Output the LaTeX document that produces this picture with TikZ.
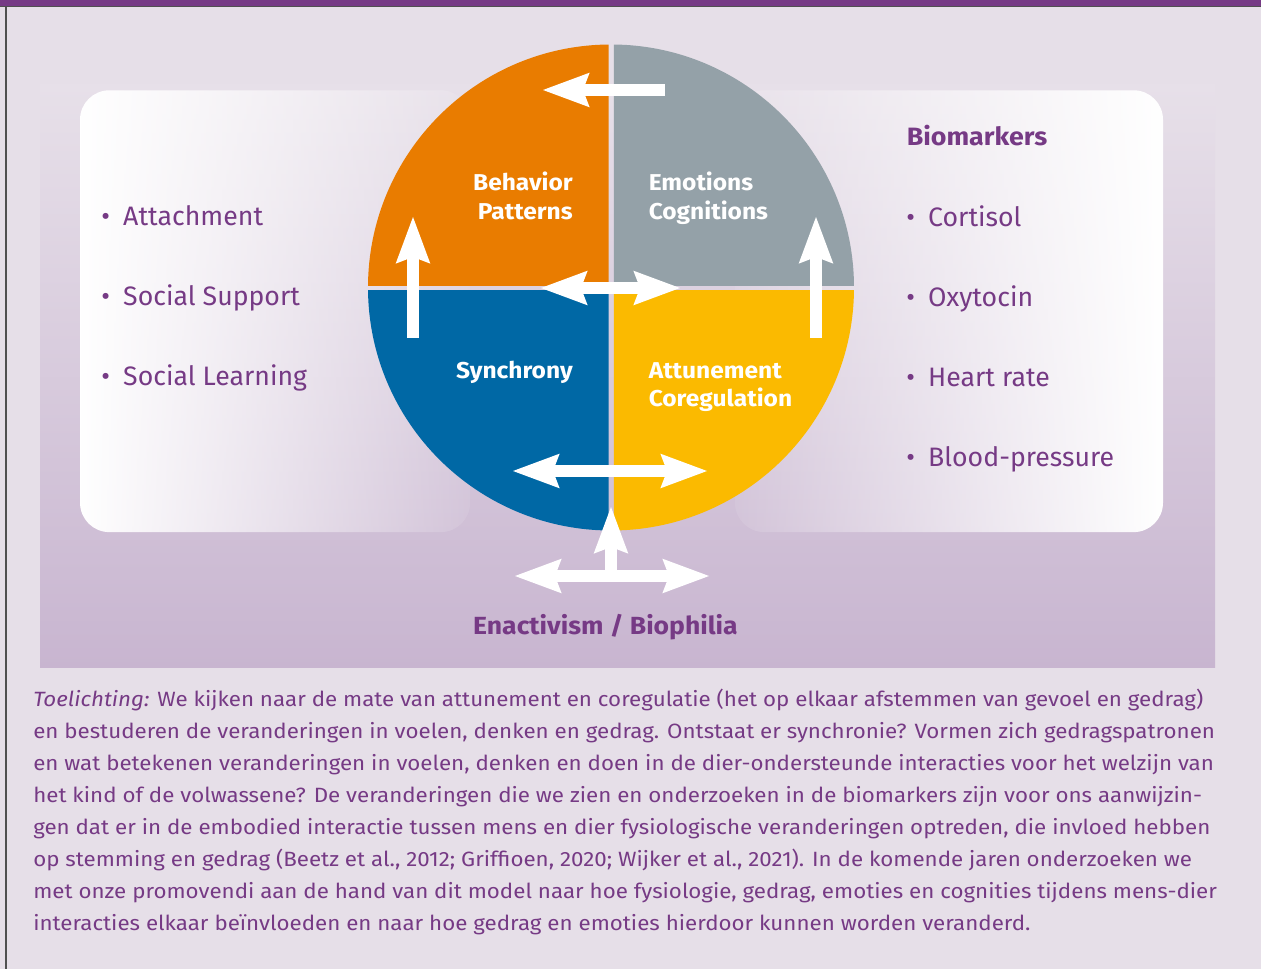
\documentclass[tikz,border=0pt]{standalone}
\usepackage{fontspec}
\setmainfont{Fira Sans}[BoldFeatures={FakeStretch=1.07}]
\newfontfamily\notefont{Fira Sans}[FakeStretch=1.08]
\usetikzlibrary{arrows.meta,fadings}

\definecolor{textpurple}{RGB}{118,58,133}
\definecolor{pagebg}{RGB}{230,223,232}
\definecolor{paneltop}{RGB}{231,224,233}
\definecolor{panelbot}{RGB}{200,181,208}
\definecolor{framegray}{RGB}{80,80,80}
\definecolor{qorange}{RGB}{233,124,0}
\definecolor{qgray}{RGB}{148,161,168}
\definecolor{qblue}{RGB}{0,104,165}
\definecolor{qyellow}{RGB}{251,186,0}

\tikzfading[name=fade left box, left color=transparent!0, middle color=transparent!10, right color=transparent!92]
\tikzfading[name=fade right box, left color=transparent!92, middle color=transparent!5, right color=transparent!0]

\tikzset{
  fat/.style={draw=white, line width=9pt, -{Stealth[length=35pt, width=26pt, inset=5pt, line width=0pt]}},
  fatboth/.style={draw=white, line width=9pt, {Stealth[length=35pt, width=26pt, inset=5pt, line width=0pt]}-{Stealth[length=35pt, width=26pt, inset=5pt, line width=0pt]}},
  quadlabel/.style={text=white, font=\bfseries\fontsize{17.2}{21.2}\selectfont, inner sep=0pt},
  listitem/.style={text=textpurple, font=\fontsize{20}{24}\selectfont, anchor=base west, inner sep=0pt},
}

\begin{document}
\begin{tikzpicture}[x=0.75pt, y=-0.75pt]
\useasboundingbox (0,0) rectangle (1261,969);
\fill[pagebg] (0,0) rectangle (1261,969);
\fill[textpurple] (0,0) rectangle (1261,5.7);
\fill[framegray] (0,5.7) rectangle (1261,7.3);
\fill[framegray] (5,5.7) rectangle (7,969);

% panel and the two boxes
\shade[top color=paneltop, bottom color=panelbot] (40,85) rectangle (1215,668);
\fill[white, rounded corners=22pt, path fading=fade left box] (80,90) rectangle (470,532);
\fill[white, rounded corners=22pt, path fading=fade right box] (735,90) rectangle (1163,532);

% circle
\begin{scope}
\clip (0,0) rectangle (608.5,285.2);
\fill[qorange] (611,287.5) circle[radius=182.25pt];
\end{scope}
\begin{scope}
\clip (613.8,0) rectangle (1261,285.2);
\fill[qgray] (611,287.5) circle[radius=182.25pt];
\end{scope}
\begin{scope}
\clip (0,290.6) rectangle (608.5,969);
\fill[qblue] (611,287.5) circle[radius=182.25pt];
\end{scope}
\begin{scope}
\clip (613.8,290.6) rectangle (1261,969);
\fill[qyellow] (611,287.5) circle[radius=182.25pt];
\end{scope}

\node[quadlabel, align=right, anchor=north east] (behav) at (573,172) {Behavior\\Patterns};
\node[quadlabel, align=left, anchor=north west] (emot) at (648.5,172) {Emotions\\Cognitions};
\node[quadlabel, anchor=base east] (sync) at (573,378.3) {Synchrony};
\node[quadlabel, align=left, anchor=north west] (attun) at (648.5,362) {Attunement\\Coregulation};

% arrows
\coordinate (topR) at (665,90);
\coordinate (topL) at (543,90);
\coordinate (leftB) at (413,338);
\coordinate (leftT) at (413,217);
\coordinate (rightB) at (816,338);
\coordinate (rightT) at (816,217);
\coordinate (midL) at (541,288);
\coordinate (midR) at (680,288);
\coordinate (lowL) at (513,471);
\coordinate (lowR) at (707,471);
\coordinate (baseC) at (611,576);
\coordinate (baseT) at (611,507);
\coordinate (baseL) at (515,576);
\coordinate (baseR) at (709,576);
\draw[fat] (topR) -- (topL);
\draw[fat] (leftB) -- (leftT);
\draw[fat] (rightB) -- (rightT);
\draw[fatboth] (midL) -- (midR);
\draw[fatboth] (lowL) -- (lowR);
\draw[fat] (baseC) -- (baseT);
\draw[fatboth] (baseL) -- (baseR);

% lists
\node[listitem] (att) at (101,226) {\textbullet\hspace{10pt}Attachment};
\node[listitem] (sup) at (101,306) {\textbullet\hspace{10pt}Social Support};
\node[listitem] (lrn) at (101,386) {\textbullet\hspace{10pt}Social Learning};

\node[listitem, font=\bfseries\fontsize{18.8}{22}\selectfont] (bio) at (906.5,145.7) {Biomarkers};
\node[listitem] (cort) at (906,226.7) {\textbullet\hspace{10pt}Cortisol};
\node[listitem] (oxy) at (906,306.7) {\textbullet\hspace{10pt}Oxytocin};
\node[listitem] (heart) at (906,386.7) {\textbullet\hspace{10pt}Heart rate};
\node[listitem] (blood) at (906,466.7) {\textbullet\hspace{10pt}Blood-pressure};

\node[text=textpurple, font=\bfseries\fontsize{18.6}{22}\selectfont, anchor=base, inner sep=0pt] (enact) at (605.5,635) {Enactivism / Biophilia};

% caption
\node[anchor=north west, inner sep=0pt, align=left, text=textpurple, font=\notefont\fontsize{15.5}{24}\selectfont] (note) at (33,689) {\textit{Toelichting:} We kijken naar de mate van attunement en coregulatie (het op elkaar afstemmen van gevoel en gedrag)\\
en bestuderen de veranderingen in voelen, denken en gedrag. Ontstaat er synchronie? Vormen zich gedragspatronen\\
en wat betekenen veranderingen in voelen, denken en doen in de dier-ondersteunde interacties voor het welzijn van\\
het kind of de volwassene? De veranderingen die we zien en onderzoeken in de biomarkers zijn voor ons aanwijzin-\\
gen dat er in de embodied interactie tussen mens en dier fysiologische veranderingen optreden, die invloed hebben\\
op stemming en gedrag (Beetz et al., 2012; Griffioen, 2020; Wijker et al., 2021). In de komende jaren onderzoeken we\\
met onze promovendi aan de hand van dit model naar hoe fysiologie, gedrag, emoties en cognities tijdens mens-dier\\
interacties elkaar beïnvloeden en naar hoe gedrag en emoties hierdoor kunnen worden veranderd.};
\end{tikzpicture}
\end{document}
